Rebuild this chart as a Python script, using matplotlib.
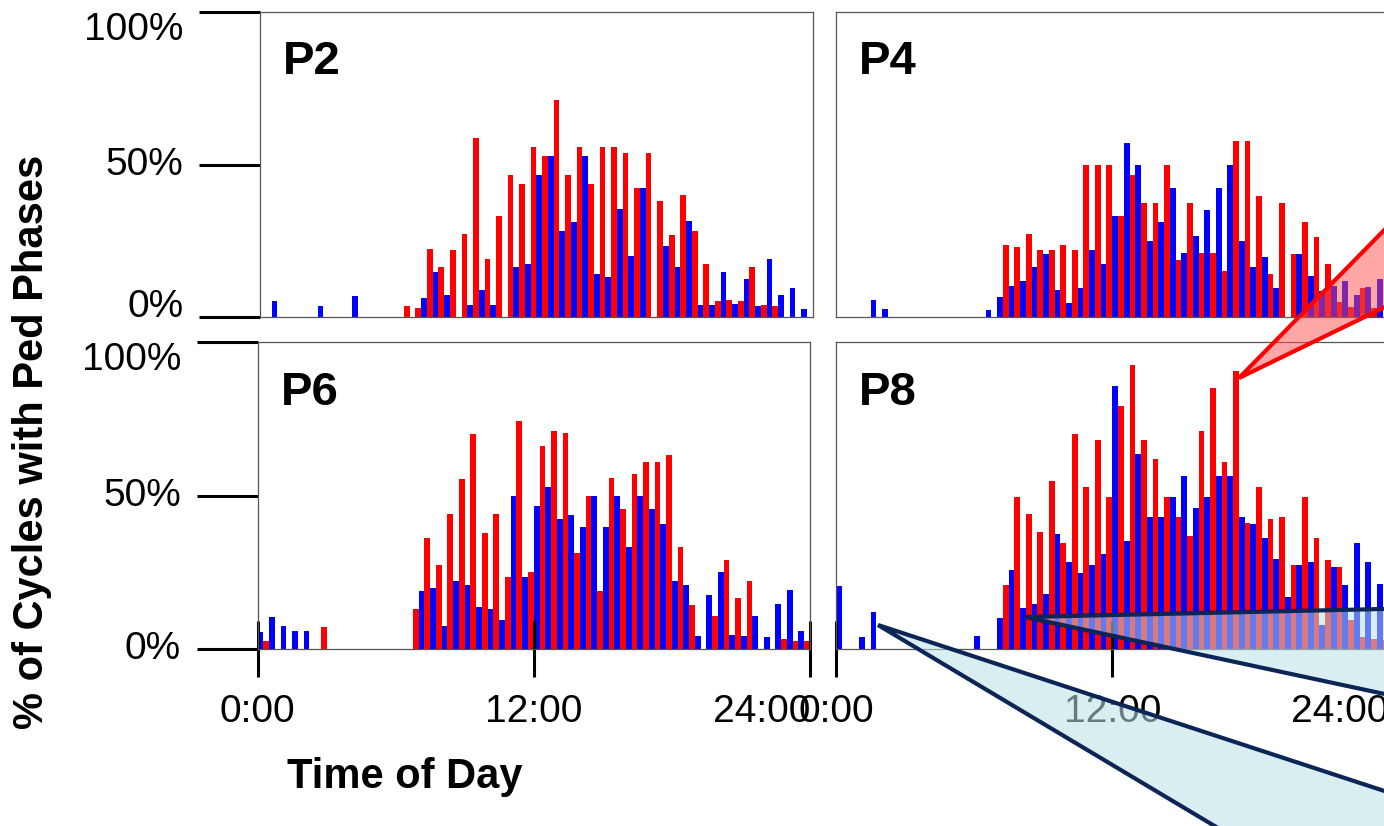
import matplotlib.pyplot as plt
from matplotlib.patches import Polygon
import numpy as np

plt.rcParams['font.family'] = ['Liberation Sans', 'DejaVu Sans']

# share of cycles with a ped phase, per half-hour bin (0:00 .. 23:30)
p2_blue = [0, 5.3, 0, 0, 0, 3.6, 0, 0, 7.0, 0,
           0, 0, 0, 0, 6.2, 14.9, 7.4, 0, 4.0, 9.0,
           4.0, 0, 16.6, 17.5, 46.6, 52.8, 28.2, 31.1, 52.8, 14.1,
           13.2, 35.4, 20.0, 42.5, 0, 23.3, 16.6, 31.5, 4.0, 4.0,
           14.9, 4.5, 12.4, 3.6, 19.1, 7.4, 9.5, 2.8]
p2_red = [0, 0, 0, 0, 0, 0, 0, 0, 0, 0,
          0, 0, 3.6, 3.2, 22.4, 16.6, 21.9, 27.4, 58.6, 19.0,
          33.3, 46.6, 43.8, 55.8, 52.8, 71.3, 46.6, 55.8, 43.7, 55.8,
          55.8, 53.7, 42.5, 53.7, 38.2, 27.0, 40.0, 28.2, 17.5, 5.2,
          5.7, 5.2, 16.6, 4.0, 3.6, 0, 0, 0]

p4_blue = [0, 0, 0, 5.7, 2.7, 0, 0, 0, 0, 0,
           0, 0, 0, 2.3, 6.5, 10.4, 12.0, 16.6, 20.6, 9.0,
           4.8, 9.5, 21.9, 17.4, 33.2, 57.0, 50.0, 24.9, 31.1, 42.5,
           21.2, 26.5, 35.2, 42.5, 50.0, 24.9, 16.6, 19.9, 9.5, 0,
           20.7, 13.6, 8.6, 10.4, 12.0, 7.3, 9.9, 12.4]
p4_red = [0, 0, 0, 0, 0, 0, 0, 0, 0, 0,
          0, 0, 0, 0, 23.6, 23.1, 27.4, 21.9, 21.9, 23.6,
          21.9, 50.0, 50.0, 50.0, 33.2, 46.5, 37.3, 37.3, 50.0, 18.7,
          37.3, 21.2, 21.2, 15.3, 57.8, 57.8, 39.8, 14.1, 37.3, 20.7,
          31.1, 26.2, 17.4, 5.0, 3.5, 9.5, 3.0, 0]

p6_blue = [5.5, 10.5, 7.6, 6.0, 6.0, 0, 0, 0, 0, 0,
           0, 0, 0, 0, 18.9, 20.1, 7.6, 22.1, 20.9, 13.9,
           13.0, 9.6, 50.0, 23.5, 46.7, 52.9, 42.5, 43.7, 40.0, 49.9,
           40.0, 49.9, 33.4, 49.9, 45.8, 40.8, 22.1, 20.9, 4.3, 17.6,
           25.1, 4.8, 4.3, 10.9, 3.9, 14.8, 19.3, 6.0]
p6_red = [2.6, 0, 0, 0, 0, 7.2, 0, 0, 0, 0,
          0, 0, 0, 13.0, 36.4, 27.6, 44.2, 55.4, 70.2, 38.0,
          44.2, 23.5, 74.5, 25.1, 66.1, 71.2, 70.3, 31.3, 49.9, 18.9,
          55.8, 45.8, 57.0, 61.1, 61.1, 63.2, 33.4, 14.3, 0, 10.9,
          29.2, 16.8, 22.1, 0, 0, 3.5, 2.6, 2.6]

p8_blue = [20.5, 0, 4.0, 12.2, 0, 0, 0, 0, 0, 0,
           0, 0, 4.4, 0, 10.2, 25.9, 13.6, 14.8, 18.0, 37.6,
           28.4, 24.8, 27.6, 30.9, 85.9, 35.4, 63.5, 43.2, 43.2, 49.5,
           56.4, 46.1, 49.5, 56.4, 56.4, 43.2, 40.7, 36.2, 29.5, 17.1,
           27.5, 28.3, 8.0, 26.7, 20.8, 34.5, 28.3, 21.3]
p8_red = [0, 0, 0, 0, 0, 0, 0, 0, 0, 0,
          0, 0, 0, 0, 20.9, 49.5, 44.1, 38.3, 54.8, 34.6,
          70.1, 52.8, 68.1, 49.5, 79.3, 92.5, 68.1, 61.9, 49.5, 43.2,
          37.0, 71.0, 85.0, 61.0, 90.7, 41.1, 52.8, 42.3, 43.2, 27.5,
          49.5, 36.2, 29.2, 26.7, 9.5, 4.1, 3.3, 3.0]

x_ticks = [0, 24, 48]
x_labels = ['0:00', '12:00', '24:00']
y_ticks = [0, 50, 100]
y_labels = ['0%', '50%', '100%']

W, H = 1384, 826
fig = plt.figure(figsize=(W / 100, H / 100), dpi=100)


def px_box(left, top, right, bottom):
    return [left / W, 1 - bottom / H, (right - left) / W, (bottom - top) / H]


panels = [
    ('P2', p2_blue, p2_red, (260, 12, 812.7, 317.3), True, False),
    ('P4', p4_blue, p4_red, (836, 12, 1388.5, 317.3), False, False),
    ('P6', p6_blue, p6_red, (257.5, 342.3, 810, 649.3), True, True),
    ('P8', p8_blue, p8_red, (836, 342.3, 1388.5, 649.3), False, True),
]

bins = np.arange(48)
for name, blue, red, box, left_col, bottom_row in panels:
    ax = fig.add_axes(px_box(*box))
    ax.bar(bins, blue, width=0.5, align='edge', color='#0000ff', lw=0)
    ax.bar(bins + 0.5, red, width=0.5, align='edge', color='#ff0000', lw=0)
    ax.set_xlim(0, 48)
    ax.set_ylim(0, 100)
    for sp in ax.spines.values():
        sp.set_color('#555555')
        sp.set_linewidth(0.9)

    if left_col:
        ax.set_yticks(y_ticks)
        ax.set_yticklabels(y_labels)
        ax.tick_params(axis='y', direction='out', length=44, width=2.2,
                       pad=11, labelsize=28, color='black')
        yt = ax.yaxis.get_major_ticks()
        if bottom_row:
            yt[0].label1.set_va('center')
        else:
            yt[0].label1.set_va('baseline')
        yt[1].label1.set_va('center')
        yt[2].label1.set_va('top')
    else:
        ax.set_yticks([])

    if bottom_row:
        ax.set_xticks(x_ticks)
        ax.set_xticklabels(x_labels)
        ax.tick_params(axis='x', direction='inout', length=41, width=2.2,
                       pad=12, labelsize=28, color='black')
        ax.xaxis.get_major_ticks()[2].label1.set_ha('right')
    else:
        ax.set_xticks([])

    ax.text(0.042, 0.835, name, transform=ax.transAxes, fontsize=34,
            fontweight='bold', va='center', ha='left')

fig.text(0.023, 0.465, '% of Cycles with Ped Phases', rotation=90,
         fontsize=30, fontweight='bold', ha='center', va='center')
fig.text(0.2926, 0.059, 'Time of Day', fontsize=30, fontweight='bold',
         ha='center', va='center')

# callout wedges drawn on top, in pixel space
ov = fig.add_axes([0, 0, 1, 1])
ov.set_xlim(0, W)
ov.set_ylim(H, 0)
ov.axis('off')
ov.patch.set_alpha(0)

navy = '#0b2556'
callouts = [
    ((1239, 378), (1450, 163), (1450, 275.5), '#ff5050', 0.5, '#ff0000'),
    ((878, 625), (1300, 877), (1450, 812.5), '#b8e0e6', 0.55, navy),
    ((1025, 617), (1450, 607.5), (1450, 708), '#b8e0e6', 0.55, navy),
]
for apex, a, b, fill, alpha, edge in callouts:
    ov.add_patch(Polygon([apex, a, b], closed=True, facecolor=fill,
                         alpha=alpha, lw=0))
    ov.plot([a[0], apex[0], b[0]], [a[1], apex[1], b[1]], color=edge,
            lw=3, solid_joinstyle='miter')

fig.savefig('out.png', dpi=100)
